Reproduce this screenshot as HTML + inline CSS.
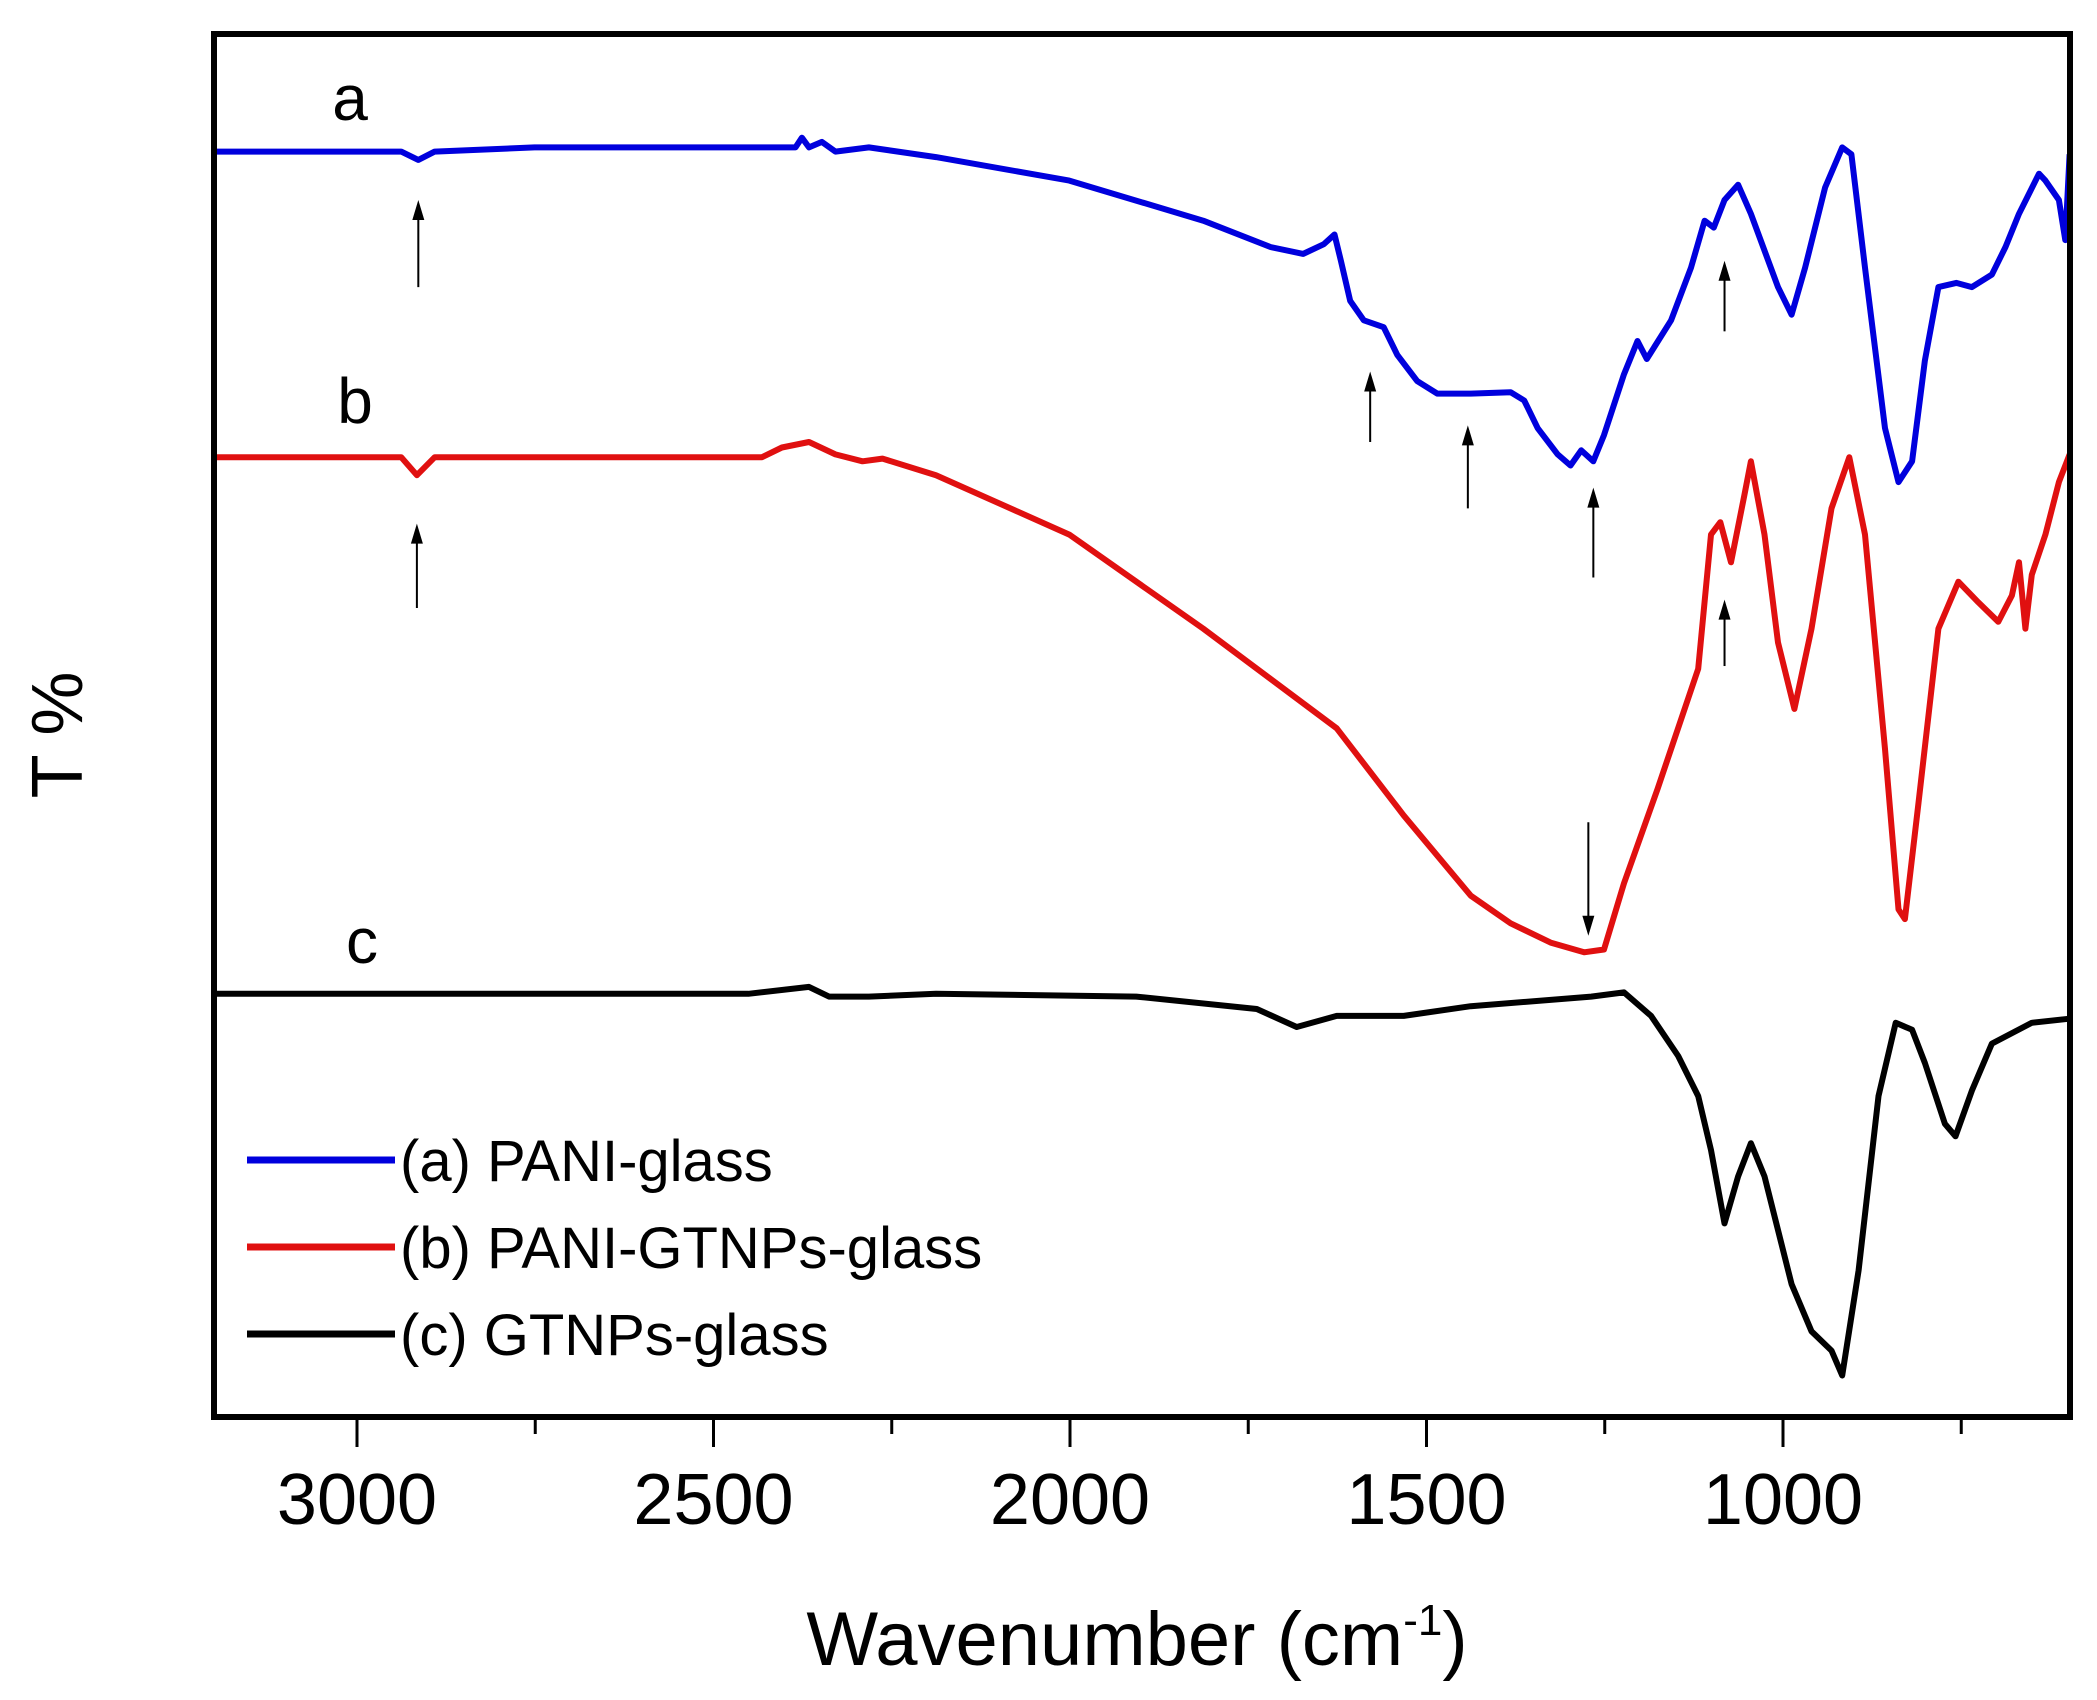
<!DOCTYPE html>
<html><head><meta charset="utf-8"><style>
html,body{margin:0;padding:0;background:#fff;}
svg{display:block;font-family:"Liberation Sans",Arial,sans-serif;}
</style></head><body>
<svg id="chart" width="2097" height="1700" viewBox="0 0 2097 1700">
<g id="series"></g>
<g id="arrows"></g>
<rect x="214" y="34" width="1856" height="1383" fill="none" stroke="#000" stroke-width="6"/>
<g id="xticks"></g>
<text x="1137" y="1665" font-size="76" text-anchor="middle">Wavenumber (cm<tspan dy="-30" font-size="44">-1</tspan><tspan dy="30">)</tspan></text>
<text x="0" y="0" font-size="72" text-anchor="middle" transform="translate(82,735) rotate(-90)">T %</text>
<text x="350" y="120" font-size="64" text-anchor="middle">a</text>
<text x="355" y="423" font-size="64" text-anchor="middle">b</text>
<text x="362" y="963" font-size="64" text-anchor="middle">c</text>
<g>
<line x1="247" y1="1160" x2="395" y2="1160" stroke="#0000dd" stroke-width="7"/>
<text x="400" y="1181" font-size="58">(a) PANI-glass</text>
<line x1="247" y1="1247" x2="395" y2="1247" stroke="#e01010" stroke-width="7"/>
<text x="400" y="1268" font-size="58">(b) PANI-GTNPs-glass</text>
<line x1="247" y1="1334" x2="395" y2="1334" stroke="#000" stroke-width="7"/>
<text x="400" y="1355" font-size="58">(c) GTNPs-glass</text>
</g>
</svg>
<script>
const blueW=[3200,2938,2914,2891,2751,2385,2376,2366,2348,2329,2282,2188,2001,1813,1719,1673,1644,1629,1620,1607,1588,1560,1541,1513,1485,1438,1382,1363,1344,1316,1298,1283,1266,1251,1223,1204,1191,1157,1129,1110,1097,1082,1063,1045,1007,988,969,941,917,904,885,857,838,819,801,782,757,735,707,688,669,641,632,613,604,598];
const blueT=[91.5,91.5,90.9,91.5,91.8,91.8,92.5,91.8,92.2,91.5,91.8,91.1,89.4,86.5,84.6,84.1,84.8,85.5,83.6,80.7,79.3,78.8,76.8,74.9,74.0,74.0,74.1,73.5,71.5,69.6,68.8,69.9,69.1,71.0,75.4,77.8,76.5,79.3,83.1,86.5,86.0,88.0,89.1,87.0,81.7,79.7,83.1,88.9,91.8,91.3,83.1,71.5,67.6,69.1,76.4,81.7,82.0,81.7,82.6,84.6,87.0,89.9,89.4,88.0,85.1,91.3];
const redW=[3200,2938,2916,2891,2432,2404,2366,2329,2291,2263,2188,2001,1813,1626,1532,1438,1382,1326,1279,1251,1223,1176,1119,1101,1088,1073,1054,1045,1026,1007,984,960,932,907,885,857,838,829,810,782,754,726,698,679,669,660,651,632,613,598];
const redT=[69.4,69.4,68.1,69.4,69.4,70.1,70.5,69.6,69.1,69.3,68.1,63.8,57.0,49.8,43.5,37.7,35.7,34.3,33.6,33.8,38.6,45.4,54.1,63.8,64.7,61.8,66.7,69.1,63.8,56.0,51.2,57.0,65.7,69.4,63.8,48.3,36.7,36.0,44.4,57.0,60.4,58.9,57.5,59.4,61.8,57.0,60.9,63.8,67.6,69.6];
const blackW=[3200,2451,2366,2338,2282,2188,1907,1738,1682,1626,1532,1438,1269,1223,1185,1147,1119,1101,1082,1063,1045,1026,988,960,932,917,894,866,842,819,801,773,758,735,707,651,598];
const blackT=[30.6,30.6,31.1,30.4,30.4,30.6,30.4,29.5,28.2,29.0,29.0,29.7,30.4,30.7,29.0,26.1,23.2,19.3,14.0,17.4,19.8,17.4,9.6,6.2,4.8,3.0,10.6,23.2,28.5,28.0,25.6,21.2,20.3,23.6,27.0,28.5,28.8];
const tickMajor=[3000,2500,2000,1500,1000];
const tickMinor=[2750,2250,1750,1250,750];
const arrowW=[2914,1579,1442,1266,1082,2916,1082,1273];
const arrowFrom=[81.7,70.5,65.7,60.7,78.5,58.5,54.3,43.0];
const arrowTo=[88.0,75.6,71.7,67.2,83.6,64.6,59.1,34.8];

const NS="http://www.w3.org/2000/svg";
function xs(w){return 357+(3000-w)*0.713;}
function ys(v){return 1417-v*13.83;}
const sg=document.getElementById('series');
function drawSeries(W,T,color,name){
  let d='';
  for(let i=0;i<W.length;i++){d+=(i?'L':'M')+xs(W[i]).toFixed(1)+' '+ys(T[i]).toFixed(1);}
  const p=document.createElementNS(NS,'path');
  p.setAttribute('d',d);p.setAttribute('fill','none');p.setAttribute('stroke',color);
  p.setAttribute('stroke-width','6');p.setAttribute('stroke-linejoin','round');
  
  
  sg.appendChild(p);
}
drawSeries(blueW,blueT,'#0000dd','series-pani-glass');
drawSeries(redW,redT,'#e01010','series-pani-gtnps-glass');
drawSeries(blackW,blackT,'#000000','series-gtnps-glass');

const ag=document.getElementById('arrows');
for(let i=0;i<arrowW.length;i++){
  const x=xs(arrowW[i]),y1=ys(arrowFrom[i]),y2=ys(arrowTo[i]);
  const dir=y2<y1?1:-1;
  const l=document.createElementNS(NS,'line');
  l.setAttribute('x1',x);l.setAttribute('y1',y1);l.setAttribute('x2',x);l.setAttribute('y2',y2+dir*14);
  l.setAttribute('stroke','#000');l.setAttribute('stroke-width','2');
  
  
  ag.appendChild(l);
  const h=document.createElementNS(NS,'polygon');
  h.setAttribute('points',`${x},${y2} ${x-6},${y2+dir*20} ${x+6},${y2+dir*20}`);
  h.setAttribute('fill','#000');
  
  
  ag.appendChild(h);
}

const xg=document.getElementById('xticks');
tickMajor.forEach(w=>{
  const l=document.createElementNS(NS,'line');
  l.setAttribute('x1',xs(w));l.setAttribute('x2',xs(w));l.setAttribute('y1',1417);l.setAttribute('y2',1447);
  l.setAttribute('stroke','#000');l.setAttribute('stroke-width','3');
  
  
  xg.appendChild(l);
  const t=document.createElementNS(NS,'text');
  t.setAttribute('x',xs(w));t.setAttribute('y',1524);t.setAttribute('font-size','72');t.setAttribute('text-anchor','middle');
  t.textContent=w;
  
  
  xg.appendChild(t);
});
tickMinor.forEach(w=>{
  const l=document.createElementNS(NS,'line');
  l.setAttribute('x1',xs(w));l.setAttribute('x2',xs(w));l.setAttribute('y1',1417);l.setAttribute('y2',1434);
  l.setAttribute('stroke','#000');l.setAttribute('stroke-width','3');
  
  
  xg.appendChild(l);
});
</script>
</body></html>
